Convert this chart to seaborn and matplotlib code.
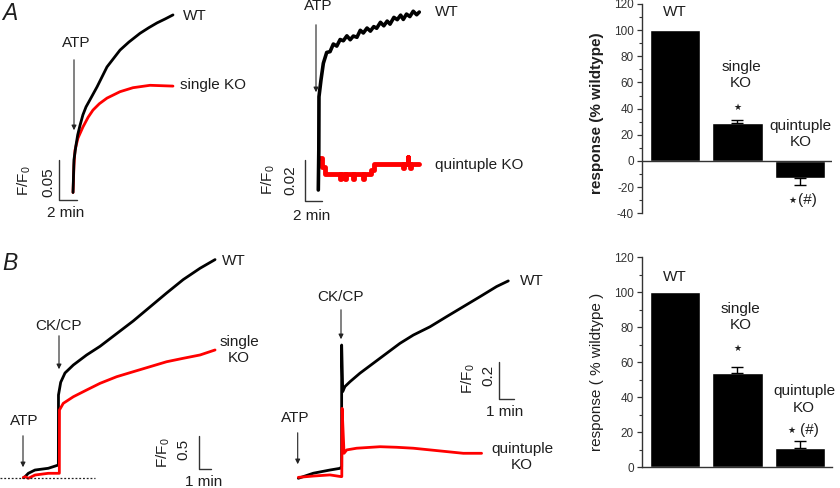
import matplotlib
matplotlib.use('Agg')
import matplotlib.pyplot as plt
import seaborn as sns
from matplotlib.ticker import MultipleLocator

# ---------------- data ----------------
# A, left: ATP response (time in min, F/F0)
a1_wt_t = [0.06, 0.17, 0.40, 0.60, 0.87, 1.20, 1.56, 2.02, 2.83, 3.98, 5.48, 6.50, 7.79, 8.80, 9.75, 10.70, 11.59]
a1_wt_f = [1.000, 1.041, 1.059, 1.072, 1.084, 1.097, 1.107, 1.116, 1.132, 1.157, 1.178, 1.188, 1.199, 1.206, 1.212, 1.217, 1.222]
a1_ko_t = [0.06, 0.17, 0.29, 0.63, 1.21, 1.80, 2.36, 3.10, 3.98, 5.48, 6.98, 8.94, 11.59]
a1_ko_f = [1.000, 1.034, 1.053, 1.068, 1.082, 1.094, 1.103, 1.111, 1.118, 1.126, 1.131, 1.134, 1.133]

# A, middle: ATP response, WT vs quintuple KO (noisy recording)
a2_wt_t = [0, 0.06, 0.08, 0.32, 0.60, 1.0, 1.4, 1.79, 2.2, 2.6, 2.98, 3.4, 3.8, 4.17, 4.6, 5.0, 5.36,
           5.8, 6.2, 6.6, 6.95, 7.4, 7.8, 8.2, 8.54, 9.0, 9.4, 9.8, 10.12, 10.5, 10.9, 11.3, 11.71, 12.02]
a2_wt_f = [1.0, 1.0195, 1.0455, 1.0537, 1.0618, 1.0671, 1.0675, 1.0712, 1.0702, 1.0734, 1.0728, 1.0752,
           1.0733, 1.0751, 1.0745, 1.0779, 1.0766, 1.0790, 1.0775, 1.0797, 1.0789, 1.0818, 1.0801, 1.0824,
           1.0809, 1.0842, 1.0831, 1.0853, 1.0832, 1.0858, 1.0846, 1.0872, 1.0855, 1.0868]
a2_ko_t = [0.05, 0.40, 0.79, 2.58, 2.66, 3.18, 3.26, 4.13, 4.21, 5.32, 5.40, 6.27, 6.63,
           10.08, 10.16, 10.64, 10.70, 10.90, 10.98, 12.0]
a2_ko_f = [1.0155, 1.0110, 1.0076, 1.0056, 1.0076, 1.0056, 1.0076, 1.0056, 1.0076, 1.0056, 1.0076, 1.0098, 1.0127,
           1.0105, 1.0127, 1.0160, 1.0127, 1.0105, 1.0127, 1.0127]

# B, left: ATP then CK/CP, WT vs single KO
b1_wt_t = [0, 0.14, 0.41, 0.95, 2.03, 2.85, 2.86, 3.04, 3.39, 4.07, 5.15, 6.24, 7.59, 8.94, 10.3, 11.66, 13.0, 14.37, 15.59]
b1_wt_f = [1.0, 1.015, 1.066, 1.115, 1.141, 1.190, 2.24, 2.43, 2.57, 2.69, 2.84, 2.97, 3.16, 3.35, 3.56, 3.77, 3.97, 4.14, 4.27]
b1_ko_t = [0, 0.14, 0.41, 0.95, 2.03, 2.93, 2.94, 3.25, 4.07, 5.15, 6.24, 7.59, 8.94, 10.3, 11.66, 13.0, 14.37, 15.59]
b1_ko_f = [1.0, 1.015, 0.991, 1.040, 1.066, 1.066, 2.015, 2.115, 2.214, 2.315, 2.415, 2.514, 2.589, 2.664, 2.739, 2.79, 2.84, 2.915]

# B, middle: ATP then CK/CP, WT vs quintuple KO
b2_wt_t = [0, 1.0, 2.11, 2.78, 2.89, 2.89, 2.96, 3.11, 3.45, 4.11, 5.0, 5.89, 6.78, 7.67, 8.78, 9.89, 11.0, 12.11, 13.22, 14.0]
b2_wt_f = [1.0, 1.027, 1.044, 1.053, 1.062, 1.709, 1.461, 1.488, 1.514, 1.559, 1.612, 1.665, 1.718, 1.762, 1.806, 1.86, 1.913, 1.966, 2.02, 2.05]
b2_ko_t = [0, 1.0, 2.11, 2.85, 2.90, 2.92, 3.05, 3.23, 3.89, 5.45, 6.56, 7.67, 8.78, 9.89, 11.0, 12.22]
b2_ko_f = [1.005, 1.012, 1.018, 1.009, 1.009, 1.372, 1.133, 1.151, 1.16, 1.168, 1.165, 1.16, 1.151, 1.142, 1.133, 1.133]

# bar charts (% wildtype), SEM drawn one-sided
groups = ['WT', 'single KO', 'quintuple KO']
a_resp = [100, 29, -13]
a_err_lo = [0, 0, 5]
a_err_hi = [0, 2.5, 0]
b_resp = [100, 54, 11]
b_err_lo = [0, 0, 0]
b_err_hi = [0, 3.5, 4]

# ---------------- style ----------------
sns.set_style('white')
plt.rcParams['font.family'] = ['Liberation Sans', 'DejaVu Sans']
plt.rcParams['mathtext.fontset'] = 'custom'
plt.rcParams['mathtext.rm'] = 'Liberation Sans'
plt.rcParams['mathtext.it'] = 'Liberation Sans:italic'
plt.rcParams['axes.unicode_minus'] = False

W, H = 840, 488
fig = plt.figure(figsize=(8.4, 4.88), dpi=100)
TXT = '#1e1e1e'
RED = '#ff0000'


def add_ax(l, t, r, b):
    return fig.add_axes([l / W, 1 - b / H, (r - l) / W, (b - t) / H])


def set_lims(ax, l, t, r, b, ox, oy, px_min, px_unit):
    # (ox, oy) is the pixel where t=0, F/F0=1
    ax.set_xlim((l - ox) / px_min, (r - ox) / px_min)
    ax.set_ylim(1 + (oy - b) / px_unit, 1 + (oy - t) / px_unit)
    ax.axis('off')


def to_data(ax, x, y):
    return ax.transData.inverted().transform((x, H - y))


def ftext(x, y, s, **kw):
    kw.setdefault('fontsize', 11)
    kw.setdefault('color', TXT)
    kw.setdefault('ha', 'center')
    kw.setdefault('va', 'center')
    fig.text(x / W, 1 - y / H, s, **kw)


def farrow(x, y0, y1):
    fig.add_artist(matplotlib.patches.FancyArrowPatch(
        (x / W, 1 - y0 / H), (x / W, 1 - y1 / H), transform=fig.transFigure,
        arrowstyle='-|>', mutation_scale=7, lw=0.8, color='#222'))


def scale_bar(ax, x, y, dx, dy):
    cx, cy = to_data(ax, x, y)
    ax.plot([cx, cx, cx + dx], [cy + dy, cy, cy], color='#333', lw=1, clip_on=False)


def trace(ax, t, f, color, lw, **kw):
    sns.lineplot(x=t, y=f, ax=ax, color=color, lw=lw, sort=False, estimator=None, **kw)


# ---------------- A left ----------------
box = (0, 0, 270, 235)
ax = add_ax(*box)
trace(ax, a1_ko_t, a1_ko_f, RED, 2)
trace(ax, a1_wt_t, a1_wt_f, 'black', 2)
set_lims(ax, *box, 72.5, 192.5, 8.67, 800)
scale_bar(ax, 59.3, 200, 2, 0.05)
ftext(10, 14, 'A', fontsize=16.5, style='italic')
ftext(76, 43, 'ATP')
farrow(74, 57, 133)
ftext(183, 16, 'WT', ha='left')
ftext(180, 85, 'single KO', ha='left')
ftext(24, 181, 'F/F$_0$', rotation=90)
ftext(48, 182, '0.05', rotation=90)
ftext(66, 213, '2 min')

# ---------------- A middle ----------------
box = (270, 0, 560, 235)
ax = add_ax(*box)
trace(ax, a2_ko_t, a2_ko_f, RED, 3.5, drawstyle='steps-post')
trace(ax, a2_wt_t, a2_wt_f, 'black', 2.6)
set_lims(ax, *box, 318.3, 190, 8.4, 2050)
scale_bar(ax, 305, 201, 2, 0.02)
ftext(318, 6, 'ATP')
farrow(316, 22, 95)
ftext(435, 12, 'WT', ha='left')
ftext(435, 165, 'quintuple KO', ha='left')
ftext(268, 180, 'F/F$_0$', rotation=90)
ftext(290, 180, '0.02', rotation=90)
ftext(312, 216, '2 min')

# ---------------- B left ----------------
box = (0, 245, 280, 488)
ax = add_ax(*box)
trace(ax, b1_wt_t, b1_wt_f, 'black', 2)
trace(ax, b1_ko_t, b1_ko_f, RED, 2)
set_lims(ax, *box, 23.3, 477.7, 12.3, 66.7)
x0 = to_data(ax, 0, 477.7)[0]
x1 = to_data(ax, 95, 477.7)[0]
ax.plot([x0, x1], [1, 1], color='#222', lw=0.9, ls=(0, (1.5, 1.5)))
scale_bar(ax, 199, 469.3, 1, 0.5)
ftext(10, 263, 'B', fontsize=16.5, style='italic')
ftext(58, 326, 'CK/CP')
farrow(59, 333, 372)
ftext(24, 421, 'ATP')
farrow(23, 433, 470)
ftext(222, 261, 'WT', ha='left')
ftext(239, 350, 'single\nKO')
ftext(163, 453, 'F/F$_0$', rotation=90)
ftext(183, 449, '0.5', rotation=90)
ftext(204, 482, '1 min')

# ---------------- B middle ----------------
box = (280, 245, 560, 488)
ax = add_ax(*box)
trace(ax, b2_wt_t, b2_wt_f, 'black', 2)
trace(ax, b2_ko_t, b2_ko_f, RED, 2)
set_lims(ax, *box, 298.3, 478.3, 15, 188)
scale_bar(ax, 499.3, 399.3, 1, 0.2)
ftext(341, 297, 'CK/CP')
farrow(341, 307, 342)
ftext(295, 418, 'ATP')
farrow(297.7, 430, 467)
ftext(520, 281, 'WT', ha='left')
ftext(522, 457, 'quintuple\nKO')
ftext(468, 379, 'F/F$_0$', rotation=90)
ftext(488, 375, '0.2', rotation=90)
ftext(505, 412, '1 min')


# ---------------- bar charts ----------------
def bar_panel(top, bottom, vals, lo, hi, ymin, ylabel, weight):
    ax = add_ax(641.7, top, 832, bottom)
    sns.barplot(x=groups, y=vals, color='black', saturation=1, width=0.8,
                errorbar=None, ax=ax)
    idx = [i for i in range(len(vals)) if lo[i] or hi[i]]
    ax.errorbar(idx, [vals[i] for i in idx], yerr=[[lo[i] for i in idx], [hi[i] for i in idx]],
                fmt='none', ecolor='black', elinewidth=1, capsize=4.5, capthick=1)
    ax.set_xlim(-0.525, 2.505)
    ax.set_ylim(ymin, 120)
    ax.set_yticks(range(ymin, 121, 20))
    ax.yaxis.set_minor_locator(MultipleLocator(10))
    ax.tick_params(axis='y', which='major', direction='out', length=3.5, width=0.9,
                   labelsize=8.5, labelcolor='#333', color='#333', pad=2, left=True)
    ax.tick_params(axis='y', which='minor', direction='out', length=2, width=0.8,
                   color='#333', left=True)
    ax.tick_params(axis='x', bottom=False, labelbottom=False)
    ax.set_xlabel('')
    ax.set_ylabel(ylabel, fontsize=11, color=TXT, fontweight=weight)
    for s in ['top', 'right']:
        ax.spines[s].set_visible(False)
    ax.spines['left'].set_color('#333')
    ax.spines['left'].set_linewidth(1)
    if ymin < 0:
        ax.spines['bottom'].set_visible(False)
        ax.axhline(0, color='#333', lw=1)
    else:
        ax.spines['bottom'].set_color('#333')
        ax.spines['bottom'].set_linewidth(1)
    return ax


ax = bar_panel(4, 213.3, a_resp, a_err_lo, a_err_hi, -40, 'response (% wildtype)', 'bold')
ax.yaxis.set_label_coords(-0.2, 0.48)
ax.text(0, 114, 'WT', ha='center', va='center', fontsize=11, color=TXT)
ax.text(1.06, 65.7, 'single\nKO', ha='center', va='center', fontsize=11, color=TXT)
ax.text(1.0, 40.7, '★', ha='center', va='center', fontsize=6.5, color=TXT, family='DejaVu Sans')
ax.text(2.0, 20.6, 'quintuple\nKO', ha='center', va='center', fontsize=11, color=TXT)
ax.text(1.876, -29.8, '★', ha='center', va='center', fontsize=6.5, color=TXT, family='DejaVu Sans')
ax.text(1.963, -29.8, '(#)', ha='left', va='center', fontsize=11, color=TXT)

ax = bar_panel(257.3, 467.3, b_resp, b_err_lo, b_err_hi, 0, 'response ( % wildtype )', 'normal')
ax.yaxis.set_label_coords(-0.2, 0.455)
ax.text(0, 108.9, 'WT', ha='center', va='center', fontsize=11, color=TXT)
ax.text(1.05, 86.1, 'single\nKO', ha='center', va='center', fontsize=11, color=TXT)
ax.text(1.0, 67.8, '★', ha='center', va='center', fontsize=6.5, color=TXT, family='DejaVu Sans')
ax.text(2.06, 38.7, 'quintuple\nKO', ha='center', va='center', fontsize=11, color=TXT)
ax.text(1.86, 21.3, '★', ha='center', va='center', fontsize=6.5, color=TXT, family='DejaVu Sans')
ax.text(1.99, 21.3, '(#)', ha='left', va='center', fontsize=11, color=TXT)

fig.savefig('out.png', dpi=100)
